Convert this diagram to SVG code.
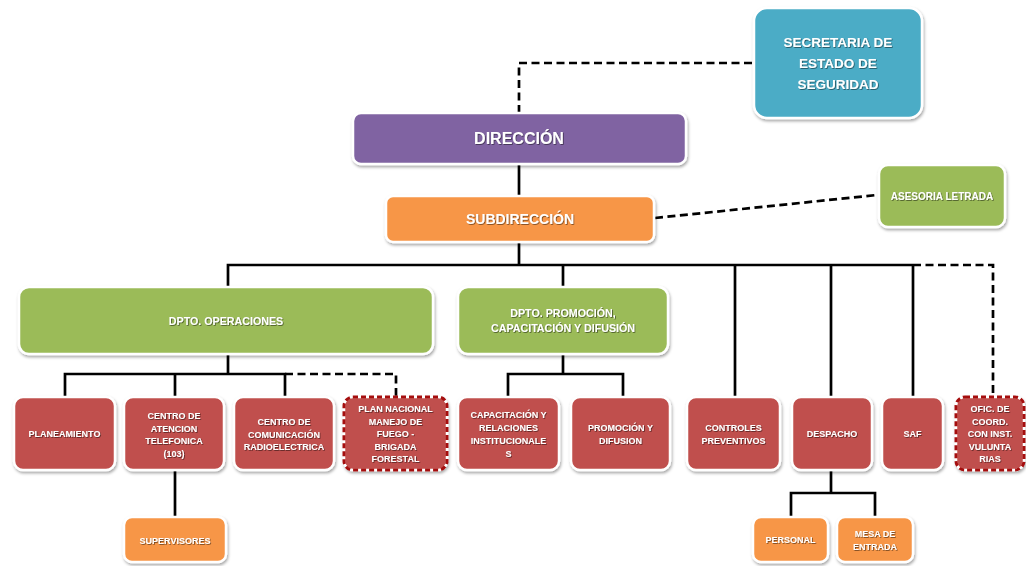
<svg xmlns="http://www.w3.org/2000/svg" width="1026" height="566" viewBox="0 0 1026 566">
  <defs>
    <filter id="boxShadow" x="-10%" y="-10%" width="125%" height="130%">
      <feDropShadow dx="1" dy="2" stdDeviation="1.6" flood-color="#000" flood-opacity="0.35"/>
    </filter>
    <filter id="textShadow" x="-5%" y="-20%" width="110%" height="150%">
      <feDropShadow dx="0.8" dy="0.8" stdDeviation="0.4" flood-color="#000" flood-opacity="0.55"/>
    </filter>
  </defs>
  <style>
    .box { stroke: #ffffff; stroke-width: 2.5; filter: url(#boxShadow); }
    .blue { fill: #4BACC6; }
    .purple { fill: #8064A2; }
    .orange { fill: #F79646; }
    .green { fill: #9BBB59; }
    .red { fill: #C0504D; }
    .dashedBox { stroke: #A50E0E; stroke-width: 3; stroke-dasharray: 5 3; }
    text { font-family: "Liberation Sans", Arial, sans-serif; font-weight: bold; fill: #ffffff; text-anchor: middle; filter: url(#textShadow); }
    .t9 { font-size: 9px; }
    .t10 { font-size: 10px; }
    .t11 { font-size: 10.7px; }
    .solid { fill: none; stroke: #000; stroke-width: 2.7; }
    .dash { fill: none; stroke: #000; stroke-width: 2.7; stroke-dasharray: 8 4.5; }
  </style>

  <!-- connectors -->
  <g id="connectors">
    <path class="dash" d="M752,63 H519 V112"/>
    <path class="solid" d="M519,164 V196"/>
    <path class="dash" d="M655,218 L877,195"/>
    <path class="solid" d="M519,242 V265"/>
    <path class="solid" d="M228,288 V265 H913"/>
    <path class="dash" d="M913,265 H993 V397"/>
    <path class="solid" d="M563,265 V288"/>
    <path class="solid" d="M735,265 V397"/>
    <path class="solid" d="M831,265 V397"/>
    <path class="solid" d="M913,265 V397"/>
    <path class="solid" d="M228,354 V374"/>
    <path class="solid" d="M65,397 V374 H285 V397"/>
    <path class="solid" d="M175,374 V397"/>
    <path class="dash" d="M285,374 H396 V397"/>
    <path class="solid" d="M563,354 V374"/>
    <path class="solid" d="M508,397 V374 H623 V397"/>
    <path class="solid" d="M175,470 V517"/>
    <path class="solid" d="M831,470 V493"/>
    <path class="solid" d="M791,517 V493 H875 V517"/>
  </g>

  <g id="secretaria">
    <rect class="box blue" x="754" y="8" width="168" height="110" rx="13"/>
    <text x="838" y="47" font-size="13.5">SECRETARIA DE</text>
    <text x="838" y="68" font-size="13.5">ESTADO DE</text>
    <text x="838" y="89" font-size="13.5">SEGURIDAD</text>
  </g>

  <g id="direccion">
    <rect class="box purple" x="353" y="113" width="333" height="51" rx="8"/>
    <text x="519" y="144" font-size="16">DIRECCIÓN</text>
  </g>

  <g id="subdireccion">
    <rect class="box orange" x="386" y="196" width="268" height="46" rx="7"/>
    <text x="520" y="224" font-size="14">SUBDIRECCIÓN</text>
  </g>

  <g id="asesoria">
    <rect class="box green" x="879" y="165" width="126" height="62" rx="9"/>
    <text class="t10" x="942" y="199.5">ASESORIA LETRADA</text>
  </g>

  <g id="dpto-operaciones">
    <rect class="box green" x="19" y="287" width="414" height="67" rx="10"/>
    <text class="t11" x="226" y="325">DPTO. OPERACIONES</text>
  </g>

  <g id="dpto-promocion">
    <rect class="box green" x="458" y="287" width="210" height="67" rx="10"/>
    <text class="t11" x="563" y="317">DPTO. PROMOCIÓN,</text>
    <text class="t11" x="563" y="332">CAPACITACIÓN Y DIFUSIÓN</text>
  </g>

  <g id="planeamiento">
    <rect class="box red" x="14" y="397" width="101" height="73" rx="9"/>
    <text class="t9" x="64.5" y="437">PLANEAMIENTO</text>
  </g>

  <g id="centro-atencion">
    <rect class="box red" x="124" y="397" width="100" height="73" rx="9"/>
    <text class="t9" x="174" y="419">CENTRO DE</text>
    <text class="t9" x="174" y="431.5">ATENCION</text>
    <text class="t9" x="174" y="444">TELEFONICA</text>
    <text class="t9" x="174" y="456.5">(103)</text>
  </g>

  <g id="centro-comunicacion">
    <rect class="box red" x="234" y="397" width="100" height="73" rx="9"/>
    <text class="t9" x="284" y="425">CENTRO DE</text>
    <text class="t9" x="284" y="437.5">COMUNICACIÓN</text>
    <text class="t9" x="284" y="450">RADIOELECTRICA</text>
  </g>

  <g id="plan-nacional">
    <rect class="box red" x="344" y="397" width="103" height="73" rx="9"/>
    <rect class="dashedBox" x="344" y="397" width="103" height="73" rx="9" fill="none"/>
    <text class="t9" x="395.5" y="412">PLAN NACIONAL</text>
    <text class="t9" x="395.5" y="424.5">MANEJO DE</text>
    <text class="t9" x="395.5" y="437">FUEGO -</text>
    <text class="t9" x="395.5" y="449.5">BRIGADA</text>
    <text class="t9" x="395.5" y="462">FORESTAL</text>
  </g>

  <g id="capacitacion-relaciones">
    <rect class="box red" x="458" y="397" width="101" height="73" rx="9"/>
    <text class="t9" x="508.5" y="418">CAPACITACIÓN Y</text>
    <text class="t9" x="508.5" y="431">RELACIONES</text>
    <text class="t9" x="508.5" y="444">INSTITUCIONALE</text>
    <text class="t9" x="508.5" y="457">S</text>
  </g>

  <g id="promocion-difusion">
    <rect class="box red" x="571" y="397" width="99" height="73" rx="9"/>
    <text class="t9" x="620.5" y="431">PROMOCIÓN Y</text>
    <text class="t9" x="620.5" y="444">DIFUSION</text>
  </g>

  <g id="controles-preventivos">
    <rect class="box red" x="687" y="397" width="93" height="73" rx="9"/>
    <text class="t9" x="733.5" y="431">CONTROLES</text>
    <text class="t9" x="733.5" y="444">PREVENTIVOS</text>
  </g>

  <g id="despacho">
    <rect class="box red" x="792" y="397" width="80" height="73" rx="9"/>
    <text class="t9" x="832" y="437">DESPACHO</text>
  </g>

  <g id="saf">
    <rect class="box red" x="882" y="397" width="61" height="73" rx="9"/>
    <text class="t9" x="912.5" y="437">SAF</text>
  </g>

  <g id="ofic-coord">
    <rect class="box red" x="956" y="397" width="68" height="73" rx="9"/>
    <rect class="dashedBox" x="956" y="397" width="68" height="73" rx="9" fill="none"/>
    <text class="t9" x="990" y="412">OFIC. DE</text>
    <text class="t9" x="990" y="424.5">COORD.</text>
    <text class="t9" x="990" y="437">CON INST.</text>
    <text class="t9" x="990" y="449.5">VULUNTA</text>
    <text class="t9" x="990" y="462">RIAS</text>
  </g>

  <g id="supervisores">
    <rect class="box orange" x="124" y="517" width="102" height="45" rx="8"/>
    <text class="t9" x="175" y="544">SUPERVISORES</text>
  </g>

  <g id="personal">
    <rect class="box orange" x="753" y="517" width="75" height="45" rx="8"/>
    <text class="t9" x="790.5" y="543">PERSONAL</text>
  </g>

  <g id="mesa-entrada">
    <rect class="box orange" x="837" y="517" width="76" height="45" rx="8"/>
    <text class="t9" x="875" y="537">MESA DE</text>
    <text class="t9" x="875" y="550">ENTRADA</text>
  </g>
</svg>
